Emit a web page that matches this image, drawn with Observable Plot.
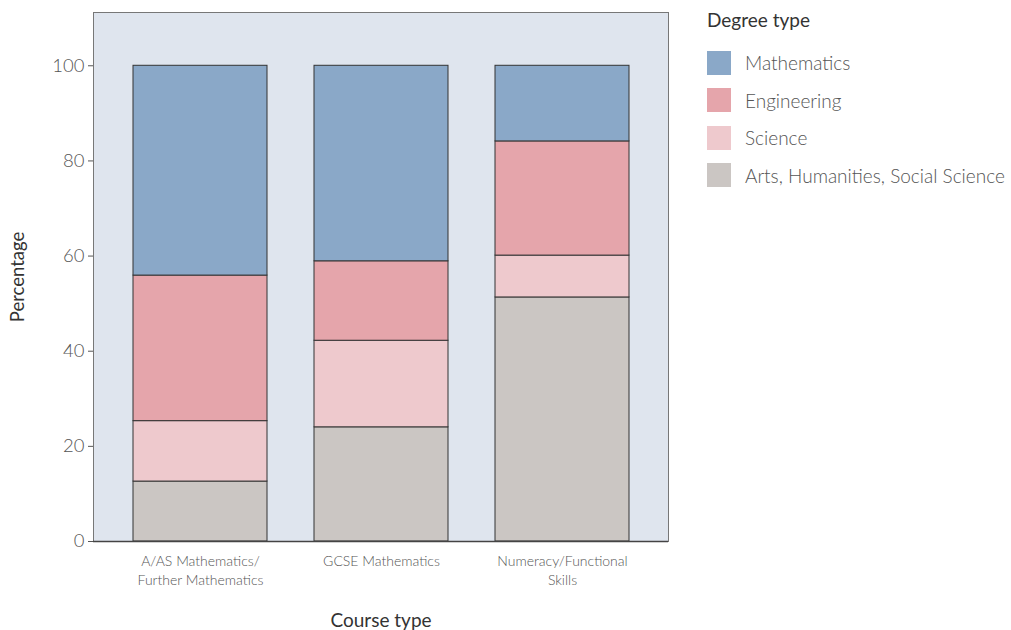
<!DOCTYPE html>
<html>
<head>
<meta charset="utf-8">
<script src="https://cdn.jsdelivr.net/npm/d3@7"></script>
<script src="https://cdn.jsdelivr.net/npm/@observablehq/plot@0.6"></script>
<style>
  html, body { margin: 0; padding: 0; background: #fff; }
  body { width: 1011px; height: 630px; position: relative; font-family: Lato, "Open Sans", sans-serif; }
  #chart { position: absolute; left: 0; top: 0; }
  #legend { position: absolute; left: 707px; top: 8px; color: #555; }
  #legend .title { font-size: 19px; color: #333; margin-bottom: 13px; }
  #legend .item { display: flex; align-items: center; height: 37.5px; font-size: 19px; font-weight: 300; }
  #legend .sw { width: 24px; height: 24px; margin-right: 14px; }
</style>
</head>
<body>
<div id="chart"></div>
<div id="legend"></div>
<script>
const courses = ["A/AS Mathematics/\nFurther Mathematics", "GCSE Mathematics", "Numeracy/Functional\nSkills"];
const degrees = ["Mathematics", "Engineering", "Science", "Arts, Humanities, Social Science"];
const colors = ["#8aa8c8", "#e5a5ab", "#eec9cd", "#cbc6c3"];
const mathematics = [44.1, 41.1, 15.9];
const engineering = [30.6, 16.7, 24.0];
const science = [12.7, 18.2, 8.8];
const arts = [12.6, 24.0, 51.3];
const yTicks = [0, 20, 40, 60, 80, 100];

const seriesValues = [mathematics, engineering, science, arts];
// stack order: bottom-up Arts, Science, Engineering, Mathematics
const stackOrder = [3, 2, 1, 0];
const data = [];
for (const si of stackOrder) {
  courses.forEach((c, ci) => data.push({course: c, degree: degrees[si], value: seriesValues[si][ci]}));
}

const chart = Plot.plot({
  width: 690,
  height: 630,
  marginLeft: 93,
  marginRight: 22,
  marginTop: 12,
  marginBottom: 89,
  style: {fontFamily: "Lato, 'Open Sans', sans-serif", background: "#fff"},
  x: {domain: courses, paddingInner: 0.26, paddingOuter: 0.218, label: null},
  y: {domain: [0, 111.2], label: null},
  color: {domain: degrees, range: colors},
  marks: [
    Plot.frame({fill: "#dfe5ee", stroke: "#777", strokeWidth: 1}),
    Plot.barY(data, Plot.stackY({order: degrees.slice().reverse(), x: "course", y: "value", fill: "degree", z: "degree", stroke: "#333", strokeWidth: 1, inset: 0})),
    Plot.ruleY([0], {stroke: "#444", strokeWidth: 1.3}),
    Plot.axisY(yTicks, {tickSize: 5, tickPadding: 4, fontSize: 18.5, fill: "#555", stroke: "#555", label: null, fontWeight: 300}),
    Plot.axisX({tickSize: 0, tickPadding: 12, fontSize: 14, fill: "#555", label: null, lineHeight: 1.3, fontWeight: 300}),
    Plot.text(["Percentage"], {frameAnchor: "left", textAnchor: "middle", dx: -75, rotate: -90, fontSize: 18.5, fill: "#333"}),
    Plot.text(["Course type"], {frameAnchor: "bottom", dy: 85, fontSize: 19, fill: "#333"})
  ]
});
document.getElementById("chart").appendChild(chart);

const legend = document.getElementById("legend");
const t = document.createElement("div");
t.className = "title";
t.textContent = "Degree type";
legend.appendChild(t);
degrees.forEach((d, i) => {
  const item = document.createElement("div");
  item.className = "item";
  const sw = document.createElement("div");
  sw.className = "sw";
  sw.style.background = colors[i];
  const lab = document.createElement("span");
  lab.textContent = d;
  item.appendChild(sw);
  item.appendChild(lab);
  legend.appendChild(item);
});
</script>
</body>
</html>
